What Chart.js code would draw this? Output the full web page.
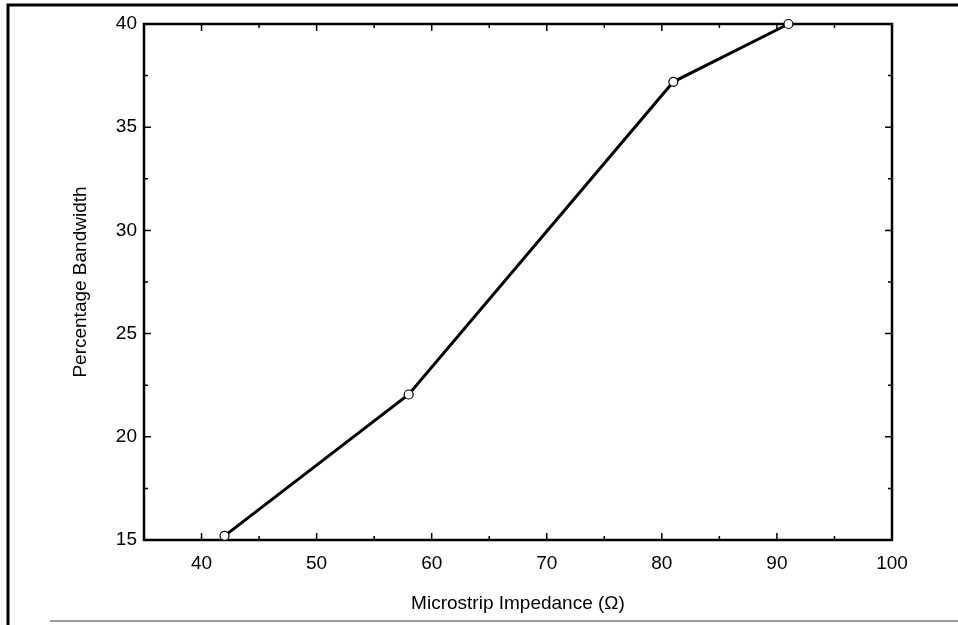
<!DOCTYPE html>
<html>
<head>
<meta charset="utf-8">
<script src="https://cdn.jsdelivr.net/npm/chart.js@4/dist/chart.umd.min.js"></script>
<style>
    html, body { margin: 0; padding: 0; background: #fff; }
    #chart { width: 958px; height: 625px; }
</style>
</head>
<body>
<div id="chart"><canvas id="myChart"></canvas></div>
<script>
// donnees
const impedance = [42, 58, 81, 91];
const bandwidth = [15.2, 22.05, 37.2, 40];
const xTicks = [40, 50, 60, 70, 80, 90, 100];
const yTicks = [15, 20, 25, 30, 35, 40];
const xMinor = [45, 55, 65, 75, 85, 95];
const yMinor = [17.5, 22.5, 27.5, 32.5, 37.5];

const FONT = "'Liberation Sans', Arial, Helvetica, sans-serif";

// cadre + petits traits vers l'interieur sur les 4 cotes
const framePlugin = {
    id: 'frame',
    beforeDatasetsDraw(chart) {
        const ctx = chart.ctx;
        const a = chart.chartArea;
        const xs = chart.scales.x, ys = chart.scales.y;
        ctx.save();
        ctx.strokeStyle = '#000';
        ctx.lineWidth = 2.5;
        ctx.strokeRect(a.left, a.top, a.right - a.left, a.bottom - a.top);

        ctx.lineWidth = 1.5;
        const tickX = (vals, len) => {
            vals.forEach(v => {
                const px = xs.getPixelForValue(v);
                ctx.beginPath();
                ctx.moveTo(px, a.bottom); ctx.lineTo(px, a.bottom - len);
                ctx.moveTo(px, a.top); ctx.lineTo(px, a.top + len);
                ctx.stroke();
            });
        };
        const tickY = (vals, len) => {
            vals.forEach(v => {
                const py = ys.getPixelForValue(v);
                ctx.beginPath();
                ctx.moveTo(a.left, py); ctx.lineTo(a.left + len, py);
                ctx.moveTo(a.right, py); ctx.lineTo(a.right - len, py);
                ctx.stroke();
            });
        };
        tickX(xTicks, 7);
        tickX(xMinor, 4);
        tickY(yTicks, 7);
        tickY(yMinor, 4);

        // bord de la page scannee
        ctx.lineWidth = 3;
        ctx.beginPath();
        ctx.moveTo(8, 625); ctx.lineTo(8, 5); ctx.lineTo(958, 5);
        ctx.stroke();
        ctx.strokeStyle = '#9a9a9a';
        ctx.lineWidth = 2;
        ctx.beginPath();
        ctx.moveTo(50, 621); ctx.lineTo(958, 621);
        ctx.stroke();
        ctx.restore();
    }
};

new Chart(document.getElementById('myChart'), {
    type: 'line',
    data: {
        datasets: [{
            data: impedance.map((x, i) => ({x: x, y: bandwidth[i]})),
            borderColor: '#000',
            borderWidth: 3,
            pointRadius: 4.5,
            pointBorderWidth: 1.2,
            pointBackgroundColor: '#fff',
            pointBorderColor: '#000',
            tension: 0,
            clip: false
        }]
    },
    options: {
        responsive: true,
        maintainAspectRatio: false,
        animation: false,
        layout: { padding: { left: 62, right: 66, top: 24, bottom: 8 } },
        plugins: {
            legend: { display: false },
            tooltip: { enabled: false }
        },
        scales: {
            x: {
                type: 'linear',
                min: 35,
                max: 100,
                afterBuildTicks: (s) => { s.ticks = xTicks.map(v => ({value: v})); },
                afterFit: (s) => { s.height = 77; },
                grid: { display: false, drawTicks: false },
                border: { display: false },
                ticks: { color: '#000', padding: 12, font: { family: FONT, size: 19 } },
                title: {
                    display: true,
                    text: 'Microstrip Impedance (Ω)',
                    color: '#000',
                    padding: { top: 0, bottom: 2 },
                    font: { family: FONT, size: 19 }
                }
            },
            y: {
                min: 15,
                max: 40,
                afterBuildTicks: (s) => { s.ticks = yTicks.map(v => ({value: v})); },
                afterFit: (s) => { s.width = 82; },
                grid: { display: false, drawTicks: false },
                border: { display: false },
                ticks: { color: '#000', padding: 7, font: { family: FONT, size: 19 } },
                title: {
                    display: true,
                    text: 'Percentage Bandwidth',
                    color: '#000',
                    padding: { top: 7, bottom: 0 },
                    font: { family: FONT, size: 19 }
                }
            }
        }
    },
    plugins: [framePlugin]
});
</script>
</body>
</html>
